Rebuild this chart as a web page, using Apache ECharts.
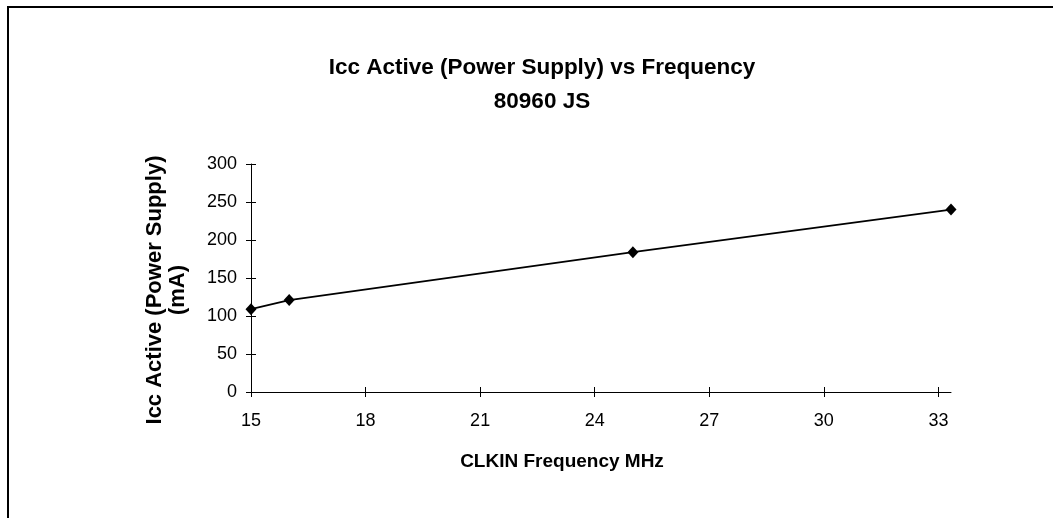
<!DOCTYPE html>
<html>
<head>
<meta charset="utf-8">
<script src="https://cdn.jsdelivr.net/npm/echarts@6/dist/echarts.min.js"></script>
<style>
	html, body { margin: 0; padding: 0; background: #fff; }
	#chart { width: 1053px; height: 518px; }
</style>
</head>
<body>
<div id="chart"></div>
<script>
// values
var freqMHz = [15, 16, 25, 33.33];
var iccMA = [109, 121, 184, 240];
var xTicks = [15, 18, 21, 24, 27, 30, 33];
var yTicks = [0, 50, 100, 150, 200, 250, 300];

var fontFam = '"Liberation Sans", Arial, sans-serif';

var points = [];
for (var i = 0; i < freqMHz.length; i++) {
	points.push([freqMHz[i], iccMA[i]]);
}

var chart = echarts.init(document.getElementById('chart'));
var option = {
	animation: false,
	backgroundColor: '#fff',
	textStyle: { fontFamily: fontFam, color: '#000' },
	title: {
		text: 'Icc Active (Power Supply) vs Frequency\n80960 JS',
		left: 537,
		top: 46,
		textAlign: 'center',
		textStyle: {
			fontFamily: fontFam,
			fontSize: 22.5,
			fontWeight: 'bold',
			color: '#000',
			lineHeight: 34
		}
	},
	graphic: [{
		type: 'rect',
		shape: { x: 8, y: 7, width: 1200, height: 700 },
		style: { fill: null, stroke: '#000', lineWidth: 2 },
		silent: true
	}],
	grid: { left: 251, right: 102, top: 164, bottom: 126 },
	xAxis: [{
		type: 'value',
		position: 'bottom',
		min: 15,
		max: 33.33,
		name: 'CLKIN Frequency MHz',
		nameLocation: 'middle',
		nameGap: 60,
		nameTextStyle: {
			fontFamily: fontFam,
			fontSize: 19,
			fontWeight: 'bold',
			color: '#000',
			padding: [0, 78, 0, 0]
		},
		axisLine: { lineStyle: { color: '#000', width: 1 } },
		axisTick: { length: 5, customValues: xTicks, lineStyle: { color: '#000' } },
		axisLabel: { customValues: xTicks, margin: 20, fontSize: 18, color: '#000', fontFamily: fontFam },
		splitLine: { show: false }
	}, {
		// inner half of the crossing ticks
		type: 'value',
		position: 'bottom',
		min: 15,
		max: 33.33,
		axisLine: { show: false },
		axisTick: { inside: true, length: 5, customValues: xTicks, lineStyle: { color: '#000' } },
		axisLabel: { show: false },
		splitLine: { show: false }
	}],
	yAxis: [{
		type: 'value',
		position: 'left',
		min: 0,
		max: 300,
		interval: 50,
		name: 'Icc Active (Power Supply)\n(mA)',
		nameLocation: 'middle',
		nameRotate: 90,
		nameGap: 62,
		nameTextStyle: {
			fontFamily: fontFam,
			fontSize: 22,
			fontWeight: 'bold',
			color: '#000',
			lineHeight: 23,
			padding: [0, 24, 0, 0]
		},
		axisLine: { show: true, lineStyle: { color: '#000', width: 1 } },
		axisTick: { show: true, length: 5, customValues: yTicks, lineStyle: { color: '#000' } },
		axisLabel: { customValues: yTicks, margin: 14, fontSize: 18, color: '#000', fontFamily: fontFam },
		splitLine: { show: false }
	}, {
		type: 'value',
		position: 'left',
		min: 0,
		max: 300,
		interval: 50,
		axisLine: { show: false },
		axisTick: { show: true, inside: true, length: 5, customValues: yTicks, lineStyle: { color: '#000' } },
		axisLabel: { show: false },
		splitLine: { show: false }
	}],
	series: [{
		name: 'Icc Active',
		type: 'line',
		xAxisIndex: 0,
		yAxisIndex: 0,
		data: points,
		symbol: 'diamond',
		symbolSize: [11, 12],
		showAllSymbol: true,
		lineStyle: { color: '#000', width: 1.8 },
		itemStyle: { color: '#000' }
	}]
};
chart.setOption(option);
</script>
</body>
</html>
